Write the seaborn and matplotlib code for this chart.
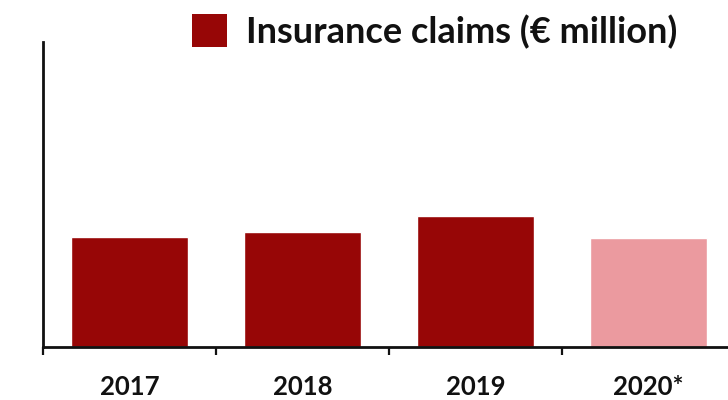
import matplotlib
matplotlib.use("Agg")
import matplotlib.pyplot as plt
from matplotlib.patches import Patch
import seaborn as sns
import pandas as pd

years = ["2017", "2018", "2019", "2020*"]
claims = [1080, 1130, 1290, 1070]
status = ["actual", "actual", "actual", "estimate"]
legend_label = "Insurance claims (€ million)"

dark_red = "#970606"
pink = "#EB9A9F"
ink = "#111111"

sns.set_theme(style="white")
plt.rcParams["font.family"] = ["Lato", "DejaVu Sans"]

df = pd.DataFrame({"year": years, "claims": claims, "status": status})

fig = plt.figure(figsize=(7.28, 4.0), dpi=100)
ax = fig.add_axes([43 / 728, 53 / 400, 692 / 728, 305 / 400])

sns.barplot(data=df, x="year", y="claims", hue="status",
            palette={"actual": dark_red, "estimate": pink},
            dodge=False, width=0.68, saturation=1, legend=False, ax=ax)

ax.set_xlim(-0.5, 3.5)
ax.set_ylim(0, 3000)
ax.set_xlabel("")
ax.set_ylabel("")
ax.set_yticks([])

ax.set_xticks([0, 1, 2, 3])
ax.set_xticklabels(years, fontsize=18.5, fontweight="bold", color=ink)
ax.tick_params(axis="x", which="major", length=0, pad=20)
ax.set_xticks([-0.5, 0.5, 1.5, 2.5, 3.5], minor=True)
ax.tick_params(axis="x", which="minor", length=6, width=1.6, color=ink,
               direction="out", bottom=True)

for side in ["top", "right"]:
    ax.spines[side].set_visible(False)
for side in ["left", "bottom"]:
    ax.spines[side].set_visible(True)
    ax.spines[side].set_color(ink)
    ax.spines[side].set_linewidth(2)

handle = Patch(facecolor=dark_red, edgecolor="none")
fig.legend([handle], [legend_label], loc="upper left",
           bbox_to_anchor=(185 / 728, 1 - 7 / 400), frameon=False,
           prop={"family": ["Lato", "DejaVu Sans"], "weight": "bold", "size": 26},
           labelcolor=ink,
           handlelength=0.95, handleheight=1.0, handletextpad=0.55,
           borderaxespad=0, borderpad=0.2)

fig.savefig("out.png", dpi=100)
